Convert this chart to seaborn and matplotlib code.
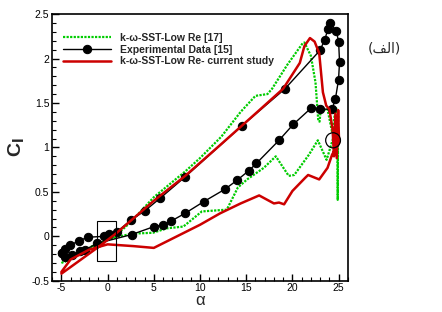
import matplotlib
matplotlib.use("Agg")
import matplotlib.pyplot as plt
from matplotlib.patches import Rectangle, Ellipse
from matplotlib.ticker import MultipleLocator
import seaborn as sns


# k-omega-SST-Low Re [17]: upstroke then downstroke, in drawing order
green_alpha = [-5.0, -3.0, -1.0, 0.8, 2.5, 5.0, 8.4, 10.0, 12.3, 14.4, 16.0, 17.3,
               17.8, 19.45, 21.1, 21.3, 22.0, 22.5, 22.8, 22.94, 23.05, 23.8, 24.3,
               24.7, 24.85, 24.9, 24.95, 24.4, 23.7, 22.75, 21.8, 20.2, 19.6, 18.2,
               16.9, 15.1, 14.1, 12.9, 10.2, 8.2, 6.4, 4.9, 2.6, 0.5, -1.5, -3.0, -4.6]
green_cl = [-0.30, -0.20, -0.09, 0.00, 0.16, 0.44, 0.73, 0.88, 1.12, 1.40, 1.58, 1.60,
            1.66, 1.93, 2.17, 2.18, 2.03, 1.73, 1.30, 1.29, 1.41, 1.43, 1.17,
            1.45, 1.40, 0.41, 1.35, 1.10, 0.86, 1.08, 0.92, 0.69, 0.68, 0.90,
            0.77, 0.64, 0.55, 0.30, 0.28, 0.11, 0.09, 0.04, 0.03, -0.02, -0.10, -0.19, -0.29]

# Experimental data [15]
exp_alpha = [-4.93, -4.57, -4.03, -3.13, -2.12, -0.36, 0.1, 1.0, 2.5, 4.06, 5.7, 8.4,
             14.5, 19.2, 22.97, 23.5, 23.84, 24.1, 24.75, 25.0, 25.1, 24.99, 24.66,
             24.3, 22.97, 22.0, 20.1, 18.55, 16.1, 15.3, 14.0, 12.7, 10.4, 8.4, 6.85,
             6.04, 5.03, 2.6, -1.15, -2.4, -2.95, -3.85, -4.57, -4.93]
exp_cl = [-0.19, -0.14, -0.10, -0.05, -0.01, 0.00, 0.03, 0.05, 0.18, 0.29, 0.43, 0.67,
          1.24, 1.66, 2.09, 2.21, 2.33, 2.40, 2.31, 2.19, 1.96, 1.76, 1.55,
          1.43, 1.43, 1.44, 1.26, 1.08, 0.82, 0.74, 0.63, 0.53, 0.39, 0.26, 0.17,
          0.13, 0.11, 0.02, -0.08, -0.15, -0.17, -0.21, -0.23, -0.19]

# k-omega-SST-Low Re, current study
red_alpha = [-5.0, -3.0, -1.0, 1.0, 3.0, 5.0, 8.4, 12.0, 16.0, 19.0, 20.8, 21.3, 21.9,
             22.4, 22.9, 23.3, 23.66, 24.0, 24.35, 24.5, 24.65, 24.8, 24.95, 25.05,
             24.3, 23.8, 22.9, 21.7, 21.4, 20.0, 19.1, 18.55, 18.0, 16.4, 14.4,
             12.2, 10.0, 7.5, 5.0, 2.8, 0.0, -2.0, -4.0, -5.0]
red_cl = [-0.42, -0.27, -0.12, 0.04, 0.22, 0.40, 0.68, 1.01, 1.38, 1.66, 1.95, 2.14, 2.23,
          2.19, 2.06, 1.62, 1.47, 1.43, 1.20, 0.90, 1.38, 0.88, 1.42, 1.05,
          0.92, 0.77, 0.64, 0.69, 0.66, 0.51, 0.36, 0.38, 0.37, 0.46, 0.37,
          0.26, 0.13, 0.00, -0.13, -0.11, -0.09, -0.15, -0.26, -0.40]

legend_labels = ["k-\u03c9-SST-Low Re [17]", "Experimental Data [15]",
                 "k-\u03c9-SST-Low Re- current study"]


def main() -> None:
    sns.set_style("white")
    plt.rcParams["font.family"] = ["Liberation Sans", "DejaVu Sans"]

    fig = plt.figure(figsize=(4.42, 3.12), dpi=100)
    ax = fig.add_axes([0.118, 0.1, 0.669, 0.855])

    sns.lineplot(x=green_alpha, y=green_cl, sort=False, estimator=None, ax=ax,
                 color="#00cc00", linestyle=(0, (1, 0.6)), linewidth=1.6,
                 label=legend_labels[0])
    sns.lineplot(x=exp_alpha, y=exp_cl, sort=False, estimator=None, ax=ax,
                 color="black", linewidth=1.0, marker="o", markersize=6,
                 markeredgecolor="black", label=legend_labels[1])
    sns.lineplot(x=red_alpha, y=red_cl, sort=False, estimator=None, ax=ax,
                 color="#cc0000", linewidth=1.8, label=legend_labels[2])

    ax.add_patch(Rectangle((-1.1, -0.28), 2.05, 0.45, fill=False,
                           edgecolor="black", linewidth=0.8, zorder=5))
    ax.add_patch(Ellipse((24.4, 1.08), 1.6, 0.17, fill=False,
                         edgecolor="black", linewidth=0.9, zorder=5))

    ax.set_xlim(-6, 26)
    ax.set_ylim(-0.5, 2.5)
    ax.xaxis.set_major_locator(MultipleLocator(5))
    ax.xaxis.set_minor_locator(MultipleLocator(1))
    ax.yaxis.set_major_locator(MultipleLocator(0.5))
    ax.yaxis.set_minor_locator(MultipleLocator(0.1))
    ax.tick_params(which="both", direction="in", top=False, right=False,
                   left=True, bottom=True, labelsize=7.5, pad=2, colors="black")
    ax.tick_params(axis="x", pad=1.5)
    ax.tick_params(which="major", length=5, width=1)
    ax.tick_params(which="minor", length=3, width=0.8)
    ax.set_xticklabels([str(int(v)) if v == int(v) else str(v) for v in ax.get_xticks()])
    ax.set_yticklabels([f"{v:g}" for v in ax.get_yticks()])
    for spine in ax.spines.values():
        spine.set_color("black")
        spine.set_linewidth(1.2)

    ax.set_xlabel("\u03b1", fontsize=12, labelpad=0)
    ax.set_ylabel("C$_\\mathbf{l}$", fontsize=14, fontweight="bold", labelpad=3)

    ax.legend(loc="upper left", bbox_to_anchor=(0.01, 0.96), frameon=False,
              handlelength=4.6, handletextpad=0.85, borderaxespad=0.4,
              labelspacing=0.15, prop={"weight": "bold", "size": 7.5})

    # Arabic label "(الف)" in visual order with presentation forms (no shaping in matplotlib)
    fig.text(0.87, 0.845, "(\ufed2\ufedf\u0627)", family=["DejaVu Sans"],
             fontsize=10, ha="center", va="center")

    fig.savefig("out.png", dpi=100)
    plt.close(fig)


if __name__ == "__main__":
    main()
